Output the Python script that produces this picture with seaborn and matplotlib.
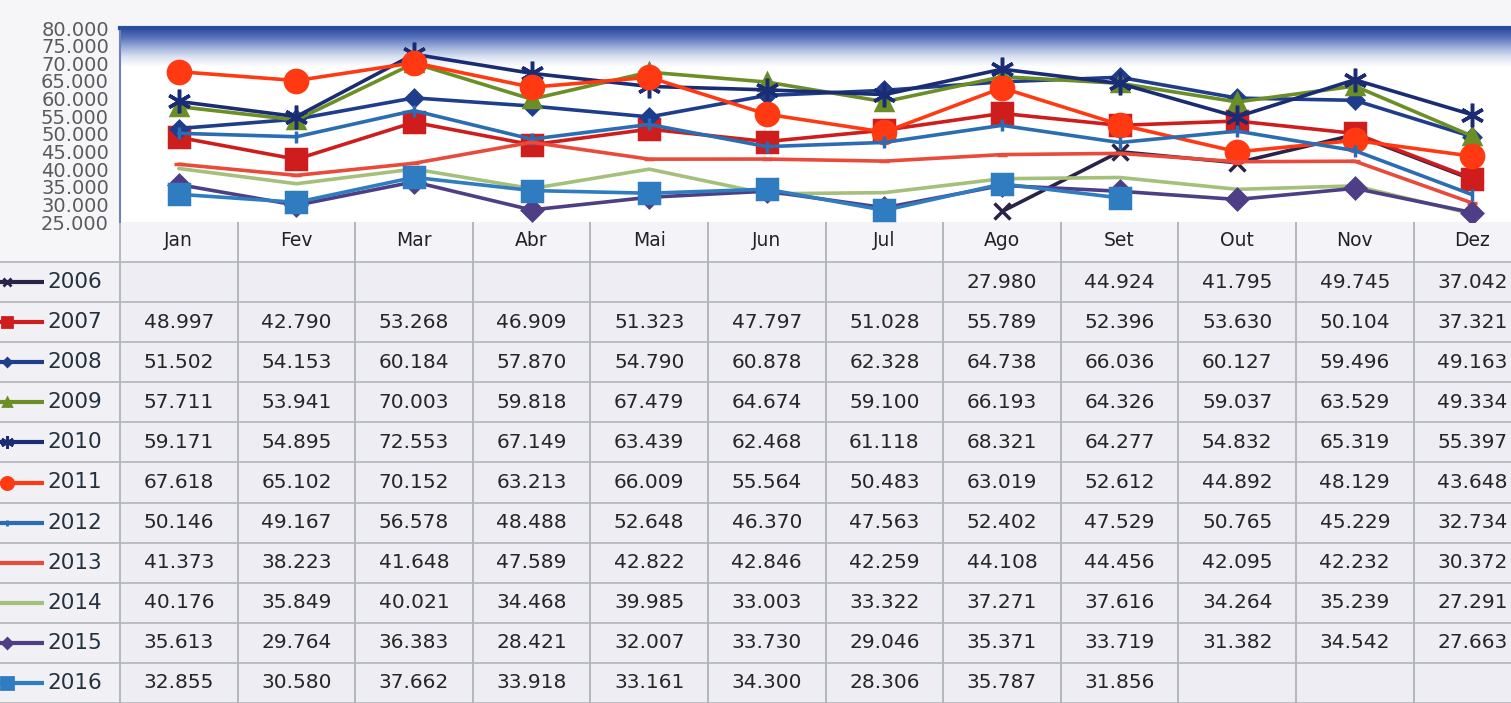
import numpy as np
import pandas as pd
import seaborn as sns
import matplotlib.pyplot as plt
from matplotlib.colors import LinearSegmentedColormap
from matplotlib.patches import Rectangle

nan = np.nan
months = ['Jan', 'Fev', 'Mar', 'Abr', 'Mai', 'Jun', 'Jul', 'Ago', 'Set', 'Out', 'Nov', 'Dez']
years = ['2006', '2007', '2008', '2009', '2010', '2011', '2012', '2013', '2014', '2015', '2016']

v2006 = [nan, nan, nan, nan, nan, nan, nan, 27980, 44924, 41795, 49745, 37042]
v2007 = [48997, 42790, 53268, 46909, 51323, 47797, 51028, 55789, 52396, 53630, 50104, 37321]
v2008 = [51502, 54153, 60184, 57870, 54790, 60878, 62328, 64738, 66036, 60127, 59496, 49163]
v2009 = [57711, 53941, 70003, 59818, 67479, 64674, 59100, 66193, 64326, 59037, 63529, 49334]
v2010 = [59171, 54895, 72553, 67149, 63439, 62468, 61118, 68321, 64277, 54832, 65319, 55397]
v2011 = [67618, 65102, 70152, 63213, 66009, 55564, 50483, 63019, 52612, 44892, 48129, 43648]
v2012 = [50146, 49167, 56578, 48488, 52648, 46370, 47563, 52402, 47529, 50765, 45229, 32734]
v2013 = [41373, 38223, 41648, 47589, 42822, 42846, 42259, 44108, 44456, 42095, 42232, 30372]
v2014 = [40176, 35849, 40021, 34468, 39985, 33003, 33322, 37271, 37616, 34264, 35239, 27291]
v2015 = [35613, 29764, 36383, 28421, 32007, 33730, 29046, 35371, 33719, 31382, 34542, 27663]
v2016 = [32855, 30580, 37662, 33918, 33161, 34300, 28306, 35787, 31856, nan, nan, nan]
values = [v2006, v2007, v2008, v2009, v2010, v2011, v2012, v2013, v2014, v2015, v2016]

colors = ['#2a2248', '#cf1d1d', '#1e3d8c', '#6b8f26', '#1a2c74', '#ff3a12',
          '#2b6db2', '#ea4a3c', '#a4c07a', '#4d3e86', '#2f7cc0']
markers = ['x', 's', 'D', '^', (6, 2, 0), 'o', '|', '_', '', 'D', 's']
msizes = [11, 14, 8, 11, 17, 16, 9, 7, 0, 10, 15]

df = pd.DataFrame({
    'year': np.repeat(years, len(months)),
    'month': months * len(years),
    'value': np.concatenate(values),
})
df['pos'] = pd.Categorical(df['month'], categories=months).codes

sns.set_style('white')
plt.rcParams['font.family'] = ['DejaVu Sans']

W, H = 1511, 703
fig = plt.figure(figsize=(W / 100, H / 100), dpi=100)
fig.patch.set_facecolor('#f6f6f9')

# table part, in pixel coordinates
col_w = 117.6
x0 = 120
top_tab = 222
head_h = 40
row_h = (H - top_tab - head_h) / len(years)
col_x = x0 + col_w * np.arange(len(months) + 1)

tab = fig.add_axes([0, 0, 1, 1])
tab.set_xlim(0, W)
tab.set_ylim(H, 0)
tab.axis('off')
tab.add_patch(Rectangle((x0, top_tab), col_x[-1] - x0, H - top_tab, color='#ededf3', zorder=0))
tab.add_patch(Rectangle((0, top_tab + head_h), x0, H - top_tab - head_h, color='#f0f0f5', zorder=0))
tab.add_patch(Rectangle((x0, top_tab), col_x[-1] - x0, head_h, color='#f4f4f8', zorder=0))
for cx in col_x:
    tab.plot([cx, cx], [top_tab, H], color='#a8aeb2', lw=1.2, zorder=1)
for i in range(len(years) + 1):
    yy = top_tab + head_h + i * row_h
    tab.plot([0, col_x[-1]], [yy, yy], color='#b0b5b9', lw=1.2, zorder=1)

for j, m in enumerate(months):
    tab.text((col_x[j] + col_x[j + 1]) / 2, top_tab + head_h / 2 - 1, m,
             ha='center', va='center', fontsize=13.5, color='#222222', fontweight='medium')

for i, (yr, vals) in enumerate(zip(years, values)):
    yc = top_tab + head_h + (i + 0.5) * row_h
    tab.plot([0, 44], [yc, yc], color=colors[i], lw=3, solid_capstyle='butt', zorder=2)
    if markers[i]:
        tab.plot([7], [yc], marker=markers[i], color=colors[i], markersize=msizes[i] * 0.55,
                 markeredgewidth=2, zorder=3)
    tab.text(47, yc, yr, ha='left', va='center', fontsize=15.5, color='#24323f')
    for j, v in enumerate(vals):
        if not np.isnan(v):
            tab.text((col_x[j] + col_x[j + 1]) / 2, yc, f'{int(v):,}'.replace(',', '.'),
                     ha='center', va='center', fontsize=14.5, color='#262626')

# chart part
ax = fig.add_axes([x0 / W, 1 - top_tab / H, col_w * 12 / W, (top_tab - 28) / H])
ax.set_facecolor('white')

for i, yr in enumerate(years):
    d = df[df['year'] == yr].dropna()
    sns.lineplot(data=d, x='pos', y='value', ax=ax, color=colors[i], lw=2.6,
                 marker=markers[i] if markers[i] else None, markersize=msizes[i],
                 markeredgecolor=colors[i], markeredgewidth=2.5, zorder=3 + i)

band = LinearSegmentedColormap.from_list('band', ['#ffffff', '#dbe2f1', '#9fb1db', '#5a75bd', '#2c4c9e'])
ax.imshow(np.linspace(1, 0, 60).reshape(-1, 1), cmap=band, aspect='auto',
          extent=[0, 1, 0.8, 1], transform=ax.transAxes, zorder=1)

ax.set_xlim(-0.5, 11.5)
ax.set_ylim(25000, 80000)
yt = np.arange(25000, 80001, 5000)
ax.set_yticks(yt)
ax.set_yticklabels([f'{t:,}'.replace(',', '.') for t in yt], fontsize=14, color='#5a5a5a')
ax.set_xticks([])
ax.set_xlabel('')
ax.set_ylabel('')
ax.tick_params(axis='y', direction='in', length=6, color='#7f8fb0', pad=8)
for s in ['right', 'bottom']:
    ax.spines[s].set_visible(False)
ax.spines['left'].set_color('#6c82b8')
ax.spines['left'].set_linewidth(1.5)
ax.spines['top'].set_color('#2c4c9e')
ax.spines['top'].set_linewidth(3)

fig.savefig('out.png', dpi=100)
